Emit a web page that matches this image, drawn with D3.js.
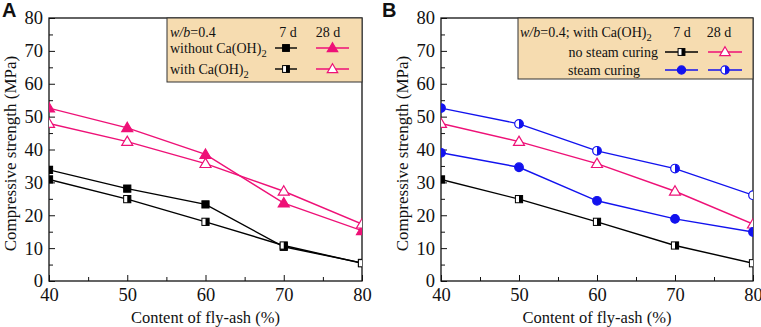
<!DOCTYPE html>
<html>
<head>
<meta charset="utf-8">
<script src="https://cdn.jsdelivr.net/npm/d3@7"></script>
<style>
  body { margin: 0; background: #fff; }
  svg text { font-family: 'Liberation Serif', 'Times New Roman', 'DejaVu Serif', serif !important; fill: #111; }
  svg text.panel { font-family: 'Liberation Sans', Arial, sans-serif !important; }
</style>
</head>
<body>
<script>
// Datos
var ash = [40, 50, 60, 70, 80];
var yTicks = [0, 10, 20, 30, 40, 50, 60, 70, 80];

// Panel A
var a7Without  = [33.8, 28.1, 23.3, 10.4, 5.5];
var a7With     = [30.9, 24.9, 18.0, 10.8, 5.4];
var a28Without = [52.6, 46.6, 38.5, 23.7, 15.3];
var a28With    = [47.9, 42.4, 35.7, 27.3, 17.3];

// Panel B
var b7NoSteam  = [30.9, 24.9, 18.0, 10.8, 5.4];
var b28NoSteam = [47.9, 42.4, 35.7, 27.3, 17.3];
var b7Steam    = [39.0, 34.6, 24.4, 18.9, 14.9];
var b28Steam   = [52.6, 47.8, 39.6, 34.2, 26.1];

var PINK = "#ee1177", BLUE = "#1212ee", BLACK = "#000";

var W = 761, H = 327;
var svg = d3.select("body").append("svg").attr("width", W).attr("height", H);

// Simbolos
function drawMarker(g, type, color, cx, cy, k) {
  k = k || 1;
  var s = 3.6 * k;
  if (type === "sqFull" || type === "sqHalf") {
    g.append("rect").attr("x", cx - s).attr("y", cy - s).attr("width", 2 * s).attr("height", 2 * s)
      .attr("fill", type === "sqFull" ? color : "#fff").attr("stroke", color).attr("stroke-width", 1);
    if (type === "sqHalf")
      g.append("rect").attr("x", cx).attr("y", cy - s).attr("width", s).attr("height", 2 * s).attr("fill", color);
  } else if (type === "triFull" || type === "triOpen") {
    var t = 5.5 * k;
    g.append("path")
      .attr("d", "M" + cx + "," + (cy - t) + "L" + (cx + t) + "," + (cy + t * 0.7) + "L" + (cx - t) + "," + (cy + t * 0.7) + "Z")
      .attr("fill", type === "triFull" ? color : "#fff").attr("stroke", color).attr("stroke-width", 1.2);
  } else if (type === "cirFull" || type === "cirHalf") {
    var r = 4.3 * k;
    g.append("circle").attr("cx", cx).attr("cy", cy).attr("r", r)
      .attr("fill", type === "cirFull" ? color : "#fff").attr("stroke", color).attr("stroke-width", 1.2);
    if (type === "cirHalf")
      g.append("path").attr("d", "M" + cx + "," + (cy - r) + "A" + r + "," + r + " 0 0 1 " + cx + "," + (cy + r) + "Z")
        .attr("fill", color);
  }
}

function panel(opt) {
  var left = opt.left, right = opt.right, top = 18, bottom = 281;
  var x = d3.scaleLinear().domain([40, 80]).range([left, right]);
  var y = d3.scaleLinear().domain([0, 80]).range([bottom, top]);
  var g = svg.append("g");

  var clipId = "clip" + opt.id;
  svg.append("clipPath").attr("id", clipId).append("rect")
    .attr("x", left).attr("y", top).attr("width", right - left).attr("height", bottom - top);

  // Ejes con ticks hacia dentro
  var xAxis = d3.axisBottom(x).tickValues(ash).tickSize(-6).tickPadding(7).tickFormat(d3.format("d"));
  var xMinor = d3.axisBottom(x).tickValues([45, 55, 65, 75]).tickSize(-4).tickFormat("");
  var yAxis = d3.axisLeft(y).tickValues(yTicks).tickSize(-6).tickPadding(6).tickFormat(d3.format("d"));
  var yMinor = d3.axisLeft(y).tickValues([5, 15, 25, 35, 45, 55, 65, 75]).tickSize(-4).tickFormat("");

  [[xAxis, "translate(0," + bottom + ")"], [xMinor, "translate(0," + bottom + ")"],
   [yAxis, "translate(" + left + ",0)"], [yMinor, "translate(" + left + ",0)"]].forEach(function (a) {
    var ag = g.append("g").attr("transform", a[1]).call(a[0]).attr("font-family", null).attr("font-size", null);
    ag.select(".domain").remove();
    ag.selectAll("line").attr("stroke", "#111").attr("stroke-width", 1);
    ag.selectAll("text").style("font-size", "18.5px").attr("fill", "#111");
  });

  // Marco
  g.append("rect").attr("x", left).attr("y", top).attr("width", right - left).attr("height", bottom - top)
    .attr("fill", "none").attr("stroke", "#111").attr("stroke-width", 1.3);

  // Series
  var line = d3.line().x(function (d, i) { return x(ash[i]); }).y(function (d) { return y(d); });
  var sg = g.append("g").attr("clip-path", "url(#" + clipId + ")");
  opt.series.forEach(function (s) {
    sg.append("path").attr("d", line(s.values)).attr("fill", "none").attr("stroke", s.color).attr("stroke-width", 1.4);
  });
  opt.series.forEach(function (s) {
    s.values.forEach(function (v, i) { drawMarker(sg, s.marker, s.color, x(ash[i]), y(v)); });
  });

  // Titulos de ejes
  g.append("text").attr("x", (left + right) / 2).attr("y", 323).attr("text-anchor", "middle")
    .style("font-size", "16.5px").text("Content of fly-ash (%)");
  g.append("text").attr("transform", "translate(" + (left - 33) + "," + ((top + bottom) / 2 + 4) + ") rotate(-90)")
    .attr("text-anchor", "middle").style("font-size", "17px").text("Compressive strength (MPa)");

  // Letra del panel
  g.append("text").attr("class", "panel").attr("x", opt.labelX).attr("y", 17)
    .style("font-weight", "bold").style("font-size", "20px").text(opt.id);

  // Leyenda
  var lg = g.append("g");
  lg.append("rect").attr("x", opt.legend.x0).attr("y", top).attr("width", right - opt.legend.x0).attr("height", opt.legend.h)
    .attr("fill", "#f6dcb0").attr("stroke", "#333").attr("stroke-width", 1);
  opt.legend.draw(lg);
}

function legText(g, xx, yy, parts, anchor) {
  var t = g.append("text").attr("x", xx).attr("y", yy).attr("text-anchor", anchor || "start").style("font-size", "14px");
  parts.forEach(function (p) {
    var ts = t.append("tspan").text(p.t);
    if (p.i) ts.style("font-style", "italic");
    if (p.sub) ts.attr("dy", 4).style("font-size", "10.5px");
  });
}

function legSym(g, x0, x1, yy, marker, color) {
  g.append("line").attr("x1", x0).attr("x2", x1).attr("y1", yy).attr("y2", yy).attr("stroke", color).attr("stroke-width", 1.4);
  drawMarker(g, marker, color, (x0 + x1) / 2, yy, 0.95);
}

panel({
  id: "A", left: 49, right: 362, labelX: 2,
  series: [
    { values: a7Without, color: BLACK, marker: "sqFull" },
    { values: a7With, color: BLACK, marker: "sqHalf" },
    { values: a28Without, color: PINK, marker: "triFull" },
    { values: a28With, color: PINK, marker: "triOpen" }
  ],
  legend: {
    x0: 167, h: 64,
    draw: function (g) {
      legText(g, 170, 37, [{ t: "w/b", i: true }, { t: "=0.4" }]);
      legText(g, 288, 37, [{ t: "7 d" }], "middle");
      legText(g, 328, 37, [{ t: "28 d" }], "middle");
      legText(g, 170, 53, [{ t: "without Ca(OH)" }, { t: "2", sub: true }]);
      legText(g, 170, 74, [{ t: "with Ca(OH)" }, { t: "2", sub: true }]);
      legSym(g, 275, 297, 48, "sqFull", BLACK);
      legSym(g, 316, 349, 48, "triFull", PINK);
      legSym(g, 275, 297, 69, "sqHalf", BLACK);
      legSym(g, 316, 349, 69, "triOpen", PINK);
    }
  }
});

panel({
  id: "B", left: 441, right: 753, labelX: 382,
  series: [
    { values: b7NoSteam, color: BLACK, marker: "sqHalf" },
    { values: b28NoSteam, color: PINK, marker: "triOpen" },
    { values: b7Steam, color: BLUE, marker: "cirFull" },
    { values: b28Steam, color: BLUE, marker: "cirHalf" }
  ],
  legend: {
    x0: 518, h: 61,
    draw: function (g) {
      legText(g, 520, 37, [{ t: "w/b", i: true }, { t: "=0.4; with Ca(OH)" }, { t: "2", sub: true }]);
      legText(g, 682, 37, [{ t: "7 d" }], "middle");
      legText(g, 719, 37, [{ t: "28 d" }], "middle");
      legText(g, 658, 57, [{ t: "no steam curing" }], "end");
      legText(g, 568, 75, [{ t: "steam curing" }]);
      legSym(g, 665, 698, 52, "sqHalf", BLACK);
      legSym(g, 708, 742, 52, "triOpen", PINK);
      legSym(g, 665, 698, 70, "cirFull", BLUE);
      legSym(g, 708, 742, 70, "cirHalf", BLUE);
    }
  }
});
</script>
</body>
</html>
